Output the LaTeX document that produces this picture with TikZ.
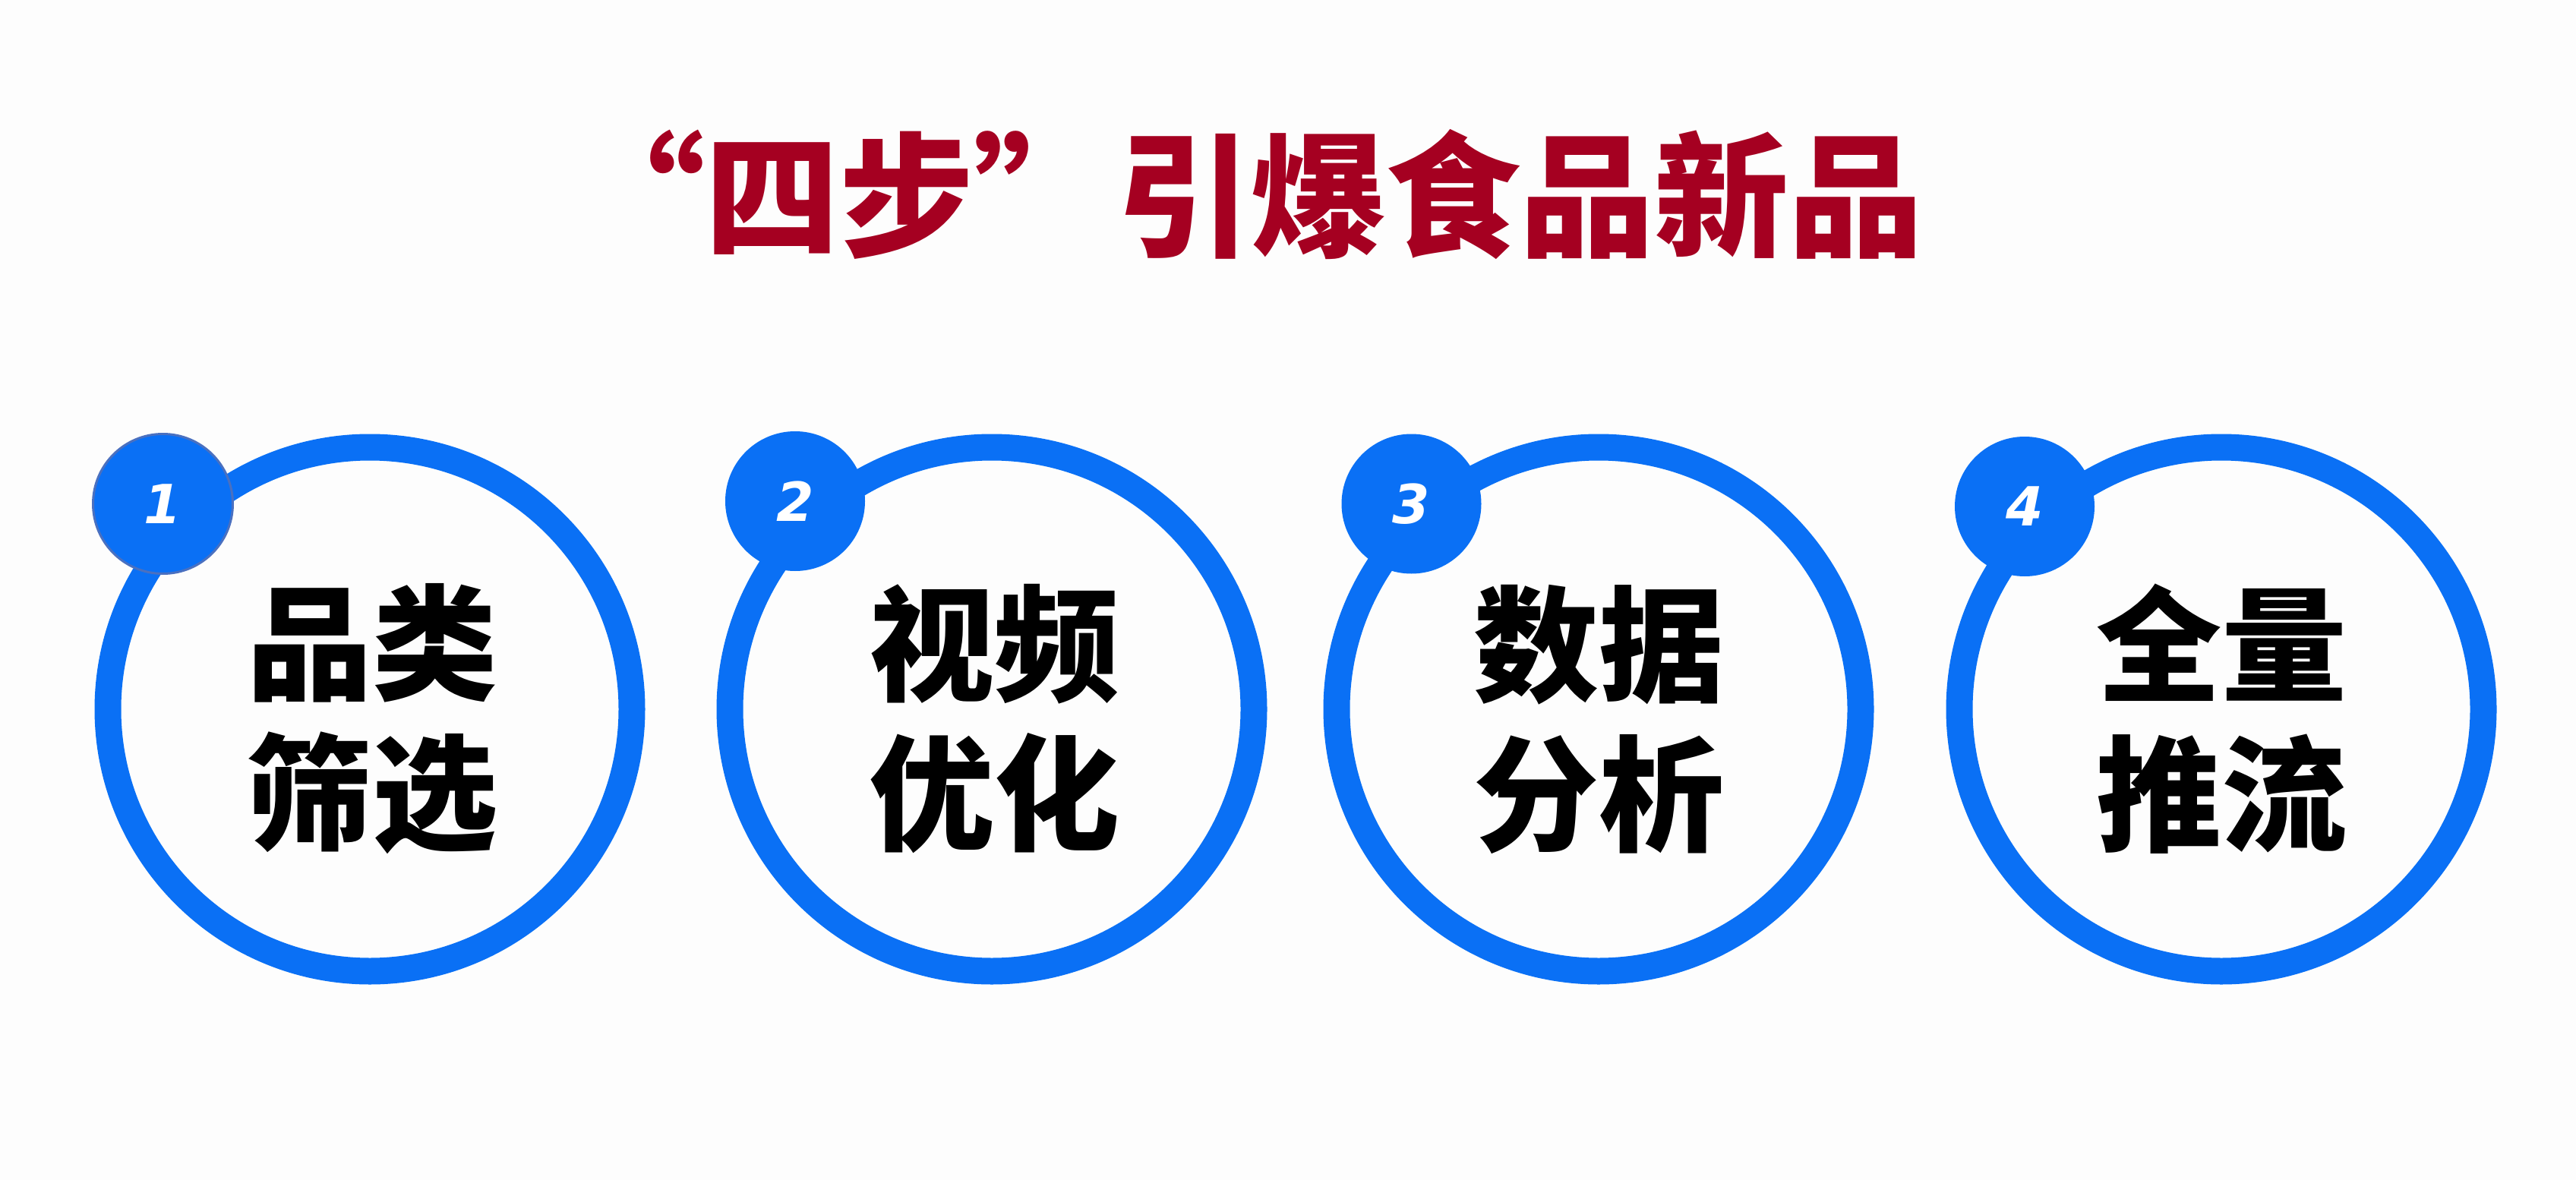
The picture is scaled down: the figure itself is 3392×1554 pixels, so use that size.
\documentclass[tikz,border=0pt]{standalone}
\usepackage{fontspec}
\newfontfamily\cjk{Noto Sans CJK SC}
\newfontfamily\numfont{DejaVu Sans}
\definecolor{titlered}{RGB}{165,0,33}
\definecolor{ringblue}{RGB}{10,112,245}
\definecolor{edgeblue}{RGB}{74,112,192}
\definecolor{bgwhite}{RGB}{253,253,253}
\tikzset{
  ring/.style={circle, draw=ringblue, line width=35pt, minimum size=690pt, inner sep=0pt, outer sep=0pt},
  badge/.style={circle, fill=ringblue, minimum size=184pt, inner sep=0pt, outer sep=0pt, text=white, font=\numfont\bfseries\itshape\fontsize{71}{71}\selectfont},
  lbl/.style={align=center, text=black, inner sep=0pt, font=\cjk\bfseries\fontsize{165}{197}\selectfont},
  titletext/.style={text=titlered, inner sep=0pt, font=\cjk\bfseries\fontsize{177}{177}\selectfont}
}
\begin{document}
\begin{tikzpicture}[x=1pt,y=-1pt]
\useasboundingbox[fill=bgwhite] (0,0) rectangle (3392,1554);
\node[titletext] (title) at (1642,256) {“四步”\hspace{12pt}引爆食品新品};
% rings
\node[ring] (c1) at (487,934) {};
\node[ring] (c2) at (1306,934) {};
\node[ring] (c3) at (2105,934) {};
\node[ring] (c4) at (2925,934) {};
% badges
\node[badge, draw=edgeblue, line width=3pt] (n1) at (214.5,663.5) {1};
\node[badge] (n2) at (1047,660) {2};
\node[badge] (n3) at (1858.5,663.5) {3};
\node[badge] (n4) at (2666,667) {4};
% labels
\node[lbl] (t1) at (490,947) {品类\\筛选};
\node[lbl] (t2) at (1309,947) {视频\\优化};
\node[lbl] (t3) at (2105,947) {数据\\分析};
\node[lbl] (t4) at (2925,947) {全量\\推流};
\end{tikzpicture}
\end{document}
